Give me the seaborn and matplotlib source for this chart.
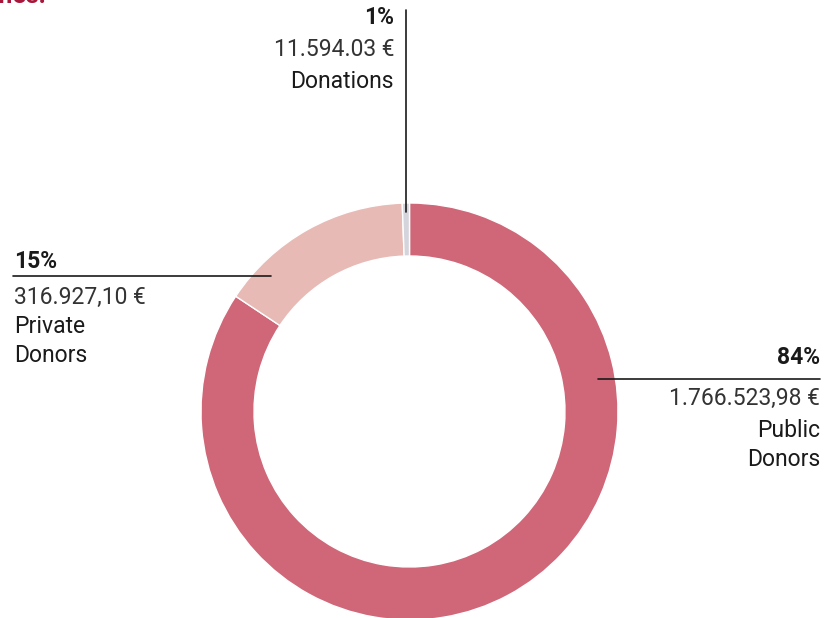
import matplotlib
matplotlib.use("Agg")
import matplotlib.pyplot as plt
import seaborn as sns

# data
categories = ["Public\nDonors", "Private\nDonors", "Donations"]
amounts = [1766523.98, 316927.10, 11594.03]
amount_labels = ["1.766.523,98 €", "316.927,10 €", "11.594.03 €"]
pct_labels = ["84%", "15%", "1%"]

sns.set_theme(style="white")
plt.rcParams["font.family"] = ["Roboto", "DejaVu Sans"]

colors = ["#CF6778", "#E8BAB5", "#D4D4DC"]

fig = plt.figure(figsize=(8.25, 6.18), dpi=100)
ax = fig.add_axes([0, 0, 1, 1])

ax.pie(amounts, colors=colors, startangle=90, counterclock=False,
       center=(409.5, 206.5), radius=208.5, frame=True,
       wedgeprops=dict(width=53, edgecolor="white", linewidth=1))
ax.set_xlim(0, 825)
ax.set_ylim(0, 618)
ax.axis("off")

txt = "#1a1a1a"
num = "#333333"
big = 16.5

# Donations (top)
ax.plot([406, 406], [608, 406], color=txt, lw=1.2)
ax.text(394, 600, pct_labels[2], ha="right", va="center", fontsize=big, weight="bold", color=txt)
ax.text(394, 568, amount_labels[2], ha="right", va="center", fontsize=big, color=num)
ax.text(394, 537, categories[2], ha="right", va="center", fontsize=big, color=txt)

# Private donors (left)
ax.plot([13, 271], [342, 342], color=txt, lw=1.2)
ax.text(14, 356, pct_labels[1], ha="left", va="center", fontsize=big, weight="bold", color=txt)
ax.text(14, 321, amount_labels[1], ha="left", va="center", fontsize=big, color=num)
ax.text(14, 277, categories[1], ha="left", va="center", fontsize=big, color=txt, linespacing=1.32)

# Public donors (right)
ax.plot([598, 820], [239, 239], color=txt, lw=1.2)
ax.text(820, 260, pct_labels[0], ha="right", va="center", fontsize=big, weight="bold", color=txt)
ax.text(820, 220, amount_labels[0], ha="right", va="center", fontsize=big, color=num)
ax.text(820, 173, categories[0], ha="right", va="center", fontsize=big, color=txt,
        linespacing=1.32, multialignment="right")

# cut-off heading at the top edge
fig.text(0.056, 1 - 3 / 618, "Incomes:", ha="right", va="baseline",
         fontsize=18, weight="bold", color="#A8163A")

fig.savefig("out.png", dpi=100)
